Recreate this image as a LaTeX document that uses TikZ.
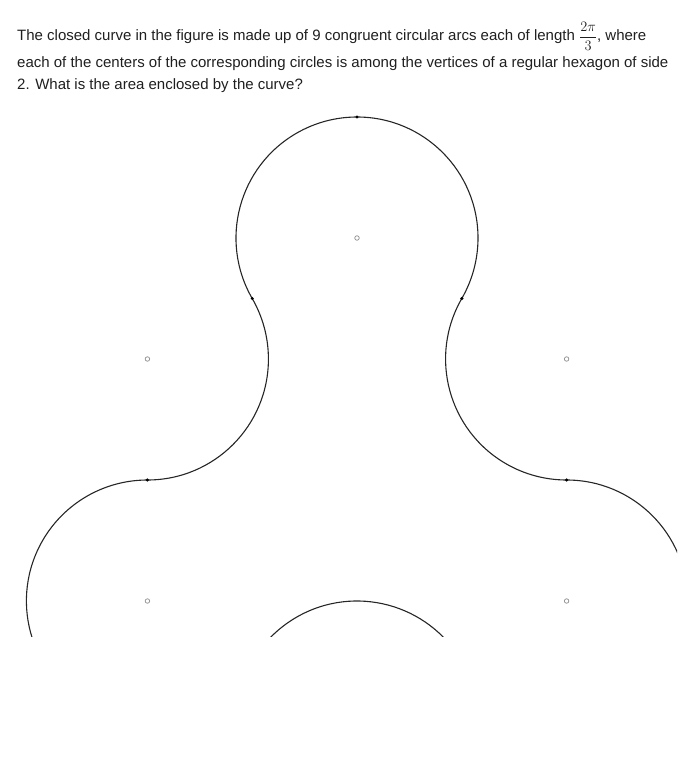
\documentclass[tikz,border=0pt]{standalone}
\usepackage{fontspec}
\setmainfont{Liberation Sans}
\usetikzlibrary{calc}
\begin{document}
\begin{tikzpicture}[x=1pt,y=-1pt,
  curve/.style={draw=black!85,line width=1.1pt},
  ctr/.style={circle,draw=black!45,fill=white,line width=0.7pt,inner sep=0pt,minimum size=4.5pt},
  jn/.style={circle,fill=black,inner sep=0pt,minimum size=3.4pt},
  txt/.style={anchor=base west,inner sep=0pt,text=black!88,font=\fontsize{15}{17}\selectfont}]
\useasboundingbox (0,0) rectangle (693,783);
% text
\node[txt] (l1) at (17,41) {The closed curve in the figure is made up of 9 congruent circular arcs each of length \(\displaystyle\frac{2\pi}{3}\), where};
\node[txt] (l2) at (17,67.5) {each of the centers of the corresponding circles is among the vertices of a regular hexagon of side};
\node[txt] (l3) at (17,89.5) {2. What is the area enclosed by the curve?};
% centers of the hexagon vertices
\coordinate (T) at (357,238);
\coordinate (UL) at (147.4,359);
\coordinate (UR) at (566.6,359);
\coordinate (LL) at (147.4,601);
\coordinate (LR) at (566.6,601);
\coordinate (B) at (357,722);
\coordinate (P0) at ($(T)+(270:121)$);
\begin{scope}
\clip (0,100) rectangle (677,636.5);
\draw[curve] (P0) arc[start angle=270,end angle=390,radius=121]
  arc[start angle=210,end angle=90,radius=121]
  arc[start angle=270,end angle=510,radius=121]
  arc[start angle=330,end angle=210,radius=121]
  arc[start angle=30,end angle=270,radius=121]
  arc[start angle=90,end angle=-30,radius=121]
  arc[start angle=150,end angle=270,radius=121] -- cycle;
\foreach \c in {T,UL,UR,LL,LR} \node[ctr] (c\c) at (\c) {};
\node[jn] (j1) at (P0) {};
\node[jn] (j2) at ($(T)!0.5!(UL)$) {};
\node[jn] (j3) at ($(T)!0.5!(UR)$) {};
\node[jn] (j4) at ($(UL)!0.5!(LL)$) {};
\node[jn] (j5) at ($(UR)!0.5!(LR)$) {};
\end{scope}
\end{tikzpicture}
\end{document}
